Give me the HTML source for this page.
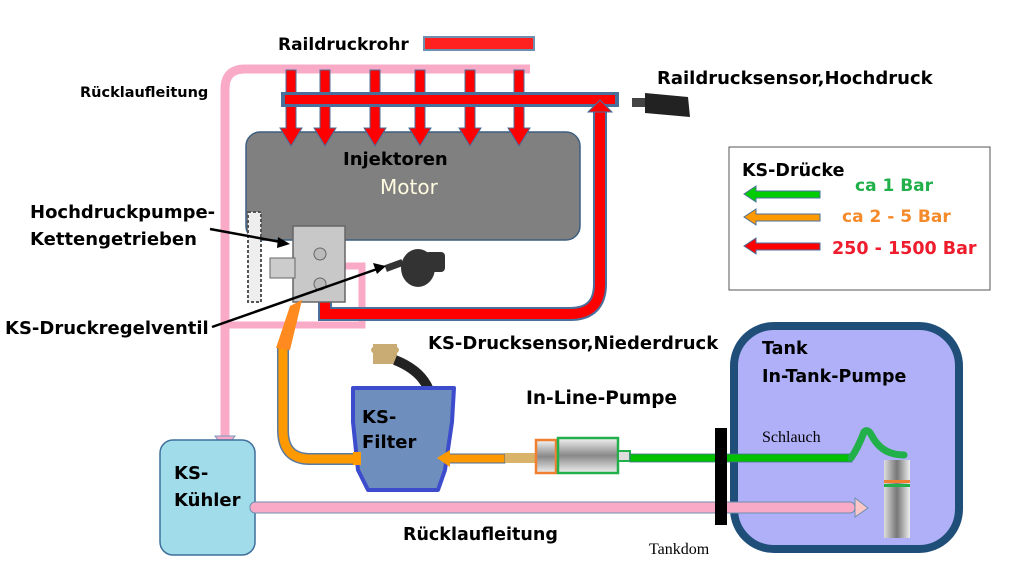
<!DOCTYPE html>
<html><head><meta charset="utf-8"><style>
html,body{margin:0;padding:0;background:#fff;}
svg{display:block;}
text{font-family:"DejaVu Sans","Liberation Sans",sans-serif;font-weight:bold;}
</style></head><body>
<svg width="1012" height="563" viewBox="0 0 1012 563" xmlns="http://www.w3.org/2000/svg">
<defs>
<linearGradient id="cyl" x1="0" x2="0" y1="0" y2="1">
<stop offset="0" stop-color="#f4f4f4"/><stop offset="0.5" stop-color="#888"/><stop offset="1" stop-color="#f0f0f0"/></linearGradient>
<linearGradient id="cylv" x1="0" x2="1" y1="0" y2="0">
<stop offset="0" stop-color="#ddd"/><stop offset="0.5" stop-color="#777"/><stop offset="1" stop-color="#eee"/></linearGradient>
</defs>

<path d="M530 69 L245 69 Q225 69 225 89 L225 438" fill="none" stroke="#f9aac6" stroke-width="9"/>
<polygon points="215,436 235,436 225,450" fill="#f9aac6" stroke="#7a9ac0" stroke-width="1"/>
<path d="M345 266 L362 266 L362 325 L225 325" fill="none" stroke="#f9aac6" stroke-width="7"/>

<rect x="246" y="132" width="334" height="108" rx="14" fill="#808080" stroke="#3d5f80" stroke-width="1.5"/>

<g fill="#ff0000" stroke="#4a6f9b" stroke-width="1">
<polygon points="286,70 296,70 296,128 302,128 291,146 280,128 286,128"/>
<polygon points="320,70 330,70 330,128 336,128 325,146 314,128 320,128"/>
<polygon points="370,70 380,70 380,128 386,128 375,146 364,128 370,128"/>
<polygon points="415,70 425,70 425,128 431,128 420,146 409,128 415,128"/>
<polygon points="465,70 475,70 475,128 481,128 470,146 459,128 465,128"/>
<polygon points="514,70 524,70 524,128 530,128 519,146 508,128 514,128"/>
</g>
<rect x="281" y="92" width="338" height="15" fill="#4a6f9b"/>
<rect x="285" y="95" width="330" height="9" fill="#ff0000"/>

<path d="M325 300 L325 314 L570 314 Q600 314 600 284 L600 112" fill="none" stroke="#4a6f9b" stroke-width="14"/>
<path d="M325 300 L325 314 L570 314 Q600 314 600 284 L600 112" fill="none" stroke="#ff0000" stroke-width="10"/>
<polygon points="588,112 612,112 600,100" fill="#ff0000" stroke="#4a6f9b" stroke-width="1"/>

<rect x="248" y="212" width="13" height="90" fill="#eee" stroke="#555" stroke-width="2" stroke-dasharray="3,2"/>
<rect x="293" y="226" width="52" height="76" fill="#c8c8c8" stroke="#666" stroke-width="1.5"/>
<rect x="270" y="258" width="25" height="20" fill="#ccc" stroke="#666"/>
<circle cx="320" cy="254" r="6" fill="#bbb" stroke="#666"/>
<circle cx="320" cy="284" r="6" fill="#bbb" stroke="#666"/>
<g fill="#333">
<rect x="385" y="262" width="18" height="7" transform="rotate(-20 394 265)"/>
<ellipse cx="418" cy="268" rx="17" ry="19"/>
<rect x="425" y="252" width="20" height="20" rx="4"/>
</g>

<g stroke="#000" stroke-width="2.5" fill="#000">
<line x1="210" y1="229" x2="286" y2="243"/>
<polygon points="290,244 278,237 277,248" stroke="none"/>
<line x1="212" y1="327" x2="380" y2="268"/>
<polygon points="386,266 373,263 377,274" stroke="none"/>
</g>

<path d="M356 459 L310 459 Q283 459 283 430 L283 345" fill="none" stroke="#5a7aa0" stroke-width="12"/>
<path d="M356 459 L310 459 Q283 459 283 430 L283 345" fill="none" stroke="#ff9900" stroke-width="9"/>
<polygon points="276,348 290,350 302,300 290,306" fill="#ff8a20"/>

<rect x="160" y="440" width="95" height="115" rx="13" fill="#a0dcea" stroke="#3f6f9b" stroke-width="1.5"/>

<ellipse cx="385" cy="350" rx="14" ry="6" fill="#c8a86b"/>
<rect x="373" y="344" width="24" height="20" fill="#c9ac74"/>
<path d="M395 360 Q420 370 428 388" stroke="#222" stroke-width="10" fill="none"/>

<polygon points="353,388 454,388 452,422 445,470 438,490 368,490 358,470 353,422" fill="#6e8ebe" stroke="#3c4ccc" stroke-width="4" stroke-linejoin="round"/>
<rect x="353" y="452" width="8" height="13" fill="#ff9900"/>

<rect x="448" y="454" width="57" height="9" fill="#ff9900" stroke="#4a6f9b" stroke-width="1"/>
<polygon points="450,450 437,458 450,467" fill="#ff9900"/>

<rect x="505" y="453" width="30" height="10" fill="#d9b36a"/>
<rect x="536" y="440" width="20" height="33" fill="url(#cyl)" stroke="#f08030" stroke-width="2.5"/>
<rect x="558" y="438" width="60" height="35" fill="url(#cyl)" stroke="#22b04a" stroke-width="2.5"/>
<rect x="618" y="451" width="12" height="10" fill="#ddd" stroke="#22b04a" stroke-width="2"/>

<rect x="734" y="326" width="225" height="223" rx="40" fill="#b0b0f8" stroke="#1f4e79" stroke-width="8"/>

<rect x="630" y="454" width="222" height="8" fill="#00c000" stroke="#4a6f9b" stroke-width="0.8"/>
<path d="M851 458 Q858 448 864 432 Q868 428 872 436 Q882 455 904 455" fill="none" stroke="#22b04a" stroke-width="7" stroke-linecap="round"/>

<rect x="250" y="502" width="605" height="11" rx="5" fill="#f9aac6" stroke="#6f8fb0" stroke-width="1"/>
<polygon points="855,498 855,517 868,508" fill="#fbc6c6" stroke="#6f8fb0" stroke-width="1"/>

<rect x="884" y="460" width="26" height="78" fill="url(#cylv)"/>
<rect x="884" y="480" width="26" height="3" fill="#f08030"/>
<rect x="884" y="484" width="26" height="3" fill="#22b04a"/>

<rect x="715" y="428" width="12" height="97" fill="#000"/>

<rect x="632" y="98" width="14" height="9" fill="#444"/>
<polygon points="645,93 688,97 690,117 645,113" fill="#222"/>

<rect x="729" y="147" width="261" height="143" fill="#fff" stroke="#555" stroke-width="1"/>
<g stroke="#4a6f9b" stroke-width="1">
<polygon points="820,191 756,191 756,186 744,194 756,202 756,198 820,198" fill="#00cc00"/>
<polygon points="820,214 756,214 756,209 744,217 756,225 756,221 820,221" fill="#ff9900"/>
<polygon points="820,243 756,243 756,238 744,246 756,254 756,250 820,250" fill="#ff0000"/>
</g>

<text x="278" y="50" font-size="17" fill="#000">Raildruckrohr</text>
<rect x="424" y="37" width="110" height="13" fill="#ff2020" stroke="#6f8fb0" stroke-width="2"/>
<text x="657" y="84" font-size="18">Raildrucksensor,Hochdruck</text>
<text x="80" y="97" font-size="14.5">Rücklaufleitung</text>
<text x="343" y="165" font-size="18">Injektoren</text>
<text x="380" y="194" font-size="20" style="font-weight:normal" fill="#fffbe0">Motor</text>
<text x="30" y="218" font-size="18">Hochdruckpumpe-</text>
<text x="30" y="245" font-size="18">Kettengetrieben</text>
<text x="5" y="334" font-size="18">KS-Druckregelventil</text>
<text x="428" y="349" font-size="18">KS-Drucksensor,Niederdruck</text>
<text x="526" y="404" font-size="18.5">In-Line-Pumpe</text>
<text x="362" y="423" font-size="18">KS-</text>
<text x="362" y="448" font-size="18">Filter</text>
<text x="174" y="479" font-size="18">KS-</text>
<text x="174" y="506" font-size="18">Kühler</text>
<text x="403" y="540" font-size="17.5">Rücklaufleitung</text>
<text x="649" y="554" font-size="16" style="font-weight:normal;font-family:'Liberation Serif',serif">Tankdom</text>
<text x="762" y="354" font-size="17.5">Tank</text>
<text x="762" y="382" font-size="17.5">In-Tank-Pumpe</text>
<text x="762" y="442" font-size="16" style="font-weight:normal;font-family:'Liberation Serif',serif">Schlauch</text>
<text x="742" y="176" font-size="17.5">KS-Drücke</text>
<text x="855" y="191" font-size="17" fill="#22b04a">ca 1 Bar</text>
<text x="842" y="222" font-size="17" fill="#f58a2a">ca 2 - 5 Bar</text>
<text x="832" y="254" font-size="17.5" fill="#ee1c2c">250 - 1500 Bar</text>
</svg>
</body></html>
